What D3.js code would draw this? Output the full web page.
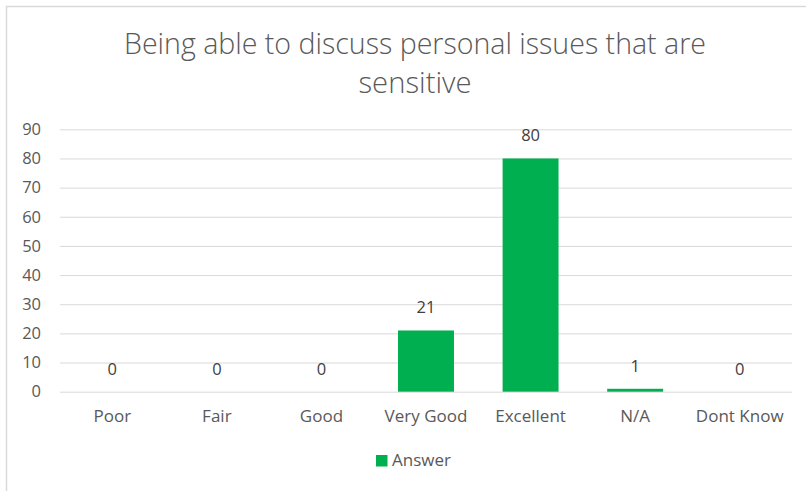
<!DOCTYPE html>
<html>
<head>
<meta charset="utf-8">
<script src="https://cdn.jsdelivr.net/npm/d3@7"></script>
<style>
  html, body { margin: 0; padding: 0; background: #fff; }
  svg { display: block; font-family: "Open Sans", sans-serif; }
</style>
</head>
<body>
<svg id="chart" width="806" height="491"></svg>
<script>
// Survey answers per rating category
const categories = ["Poor", "Fair", "Good", "Very Good", "Excellent", "N/A", "Dont Know"];
const answers = [0, 0, 0, 21, 80, 1, 0];
const yTicks = [0, 10, 20, 30, 40, 50, 60, 70, 80, 90];
const titleLines = ["Being able to discuss personal issues that are", "sensitive"];
const seriesName = "Answer";

const svg = d3.select("#chart");
const W = 806, H = 491;
const plot = { left: 60, right: 792, top: 129.3, bottom: 391.7 };
const barColor = "#00b050";
const textColor = "#595959";
const labelFont = "Open Sans, sans-serif";

// Chart frame (extends past the right and bottom edges)
svg.append("rect")
  .attr("x", 6.5).attr("y", 6.5)
  .attr("width", W + 20).attr("height", H + 20)
  .attr("fill", "#fff").attr("stroke", "#d9d9d9").attr("stroke-width", 1.5);

// Title in light weight, two centred lines
const titleWidths = [582, 113];
svg.append("g").selectAll("text")
  .data(titleLines)
  .join("text")
  .attr("x", 415)
  .attr("y", (d, i) => 54 + i * 39)
  .attr("text-anchor", "middle")
  .attr("fill", textColor)
  .attr("font-size", 28.5)
  .attr("font-weight", 300)
  .attr("textLength", (d, i) => titleWidths[i])
  .attr("lengthAdjust", "spacingAndGlyphs")
  .text(d => d);

const x = d3.scaleBand()
  .domain(categories)
  .range([plot.left, plot.right])
  .paddingInner(0.465)
  .paddingOuter(0.2325);

const y = d3.scaleLinear()
  .domain([0, 90])
  .range([plot.bottom, plot.top]);

// Horizontal gridlines and value axis labels
const yAxis = d3.axisLeft(y)
  .tickValues(yTicks)
  .tickSize(-(plot.right - plot.left))
  .tickPadding(19);

const gy = svg.append("g")
  .attr("transform", `translate(${plot.left},0)`)
  .call(yAxis);
gy.select(".domain").remove();
gy.selectAll(".tick line").attr("stroke", "#d9d9d9").attr("stroke-width", 1);
gy.selectAll(".tick text")
  .attr("fill", textColor)
  .attr("font-size", 16.5)
  .attr("font-family", labelFont);

// Category axis
const xAxis = d3.axisBottom(x).tickSize(0).tickPadding(18);
const gx = svg.append("g")
  .attr("transform", `translate(0,${plot.bottom})`)
  .call(xAxis);
gx.select(".domain").remove();
gx.selectAll(".tick text")
  .attr("fill", textColor)
  .attr("font-size", 17)
  .attr("font-family", labelFont);

const rows = categories.map((c, i) => ({ c, v: answers[i] }));

// Bars
svg.append("g").selectAll("rect")
  .data(rows)
  .join("rect")
  .attr("x", d => x(d.c))
  .attr("y", d => y(d.v))
  .attr("width", x.bandwidth())
  .attr("height", d => y(0) - y(d.v))
  .attr("fill", barColor);

// Value labels
svg.append("g").selectAll("text")
  .data(rows)
  .join("text")
  .attr("x", d => x(d.c) + x.bandwidth() / 2)
  .attr("y", d => y(d.v) - 17)
  .attr("text-anchor", "middle")
  .attr("fill", "#404040")
  .attr("font-size", 16.5)
  .text(d => d.v);

// Legend
const lg = svg.append("g").attr("transform", "translate(376,455)");
lg.append("rect").attr("width", 11.5).attr("height", 11.5).attr("fill", barColor);
lg.append("text")
  .attr("x", 16).attr("y", 11)
  .attr("fill", textColor)
  .attr("font-size", 17)
  .text(seriesName);
</script>
</body>
</html>
